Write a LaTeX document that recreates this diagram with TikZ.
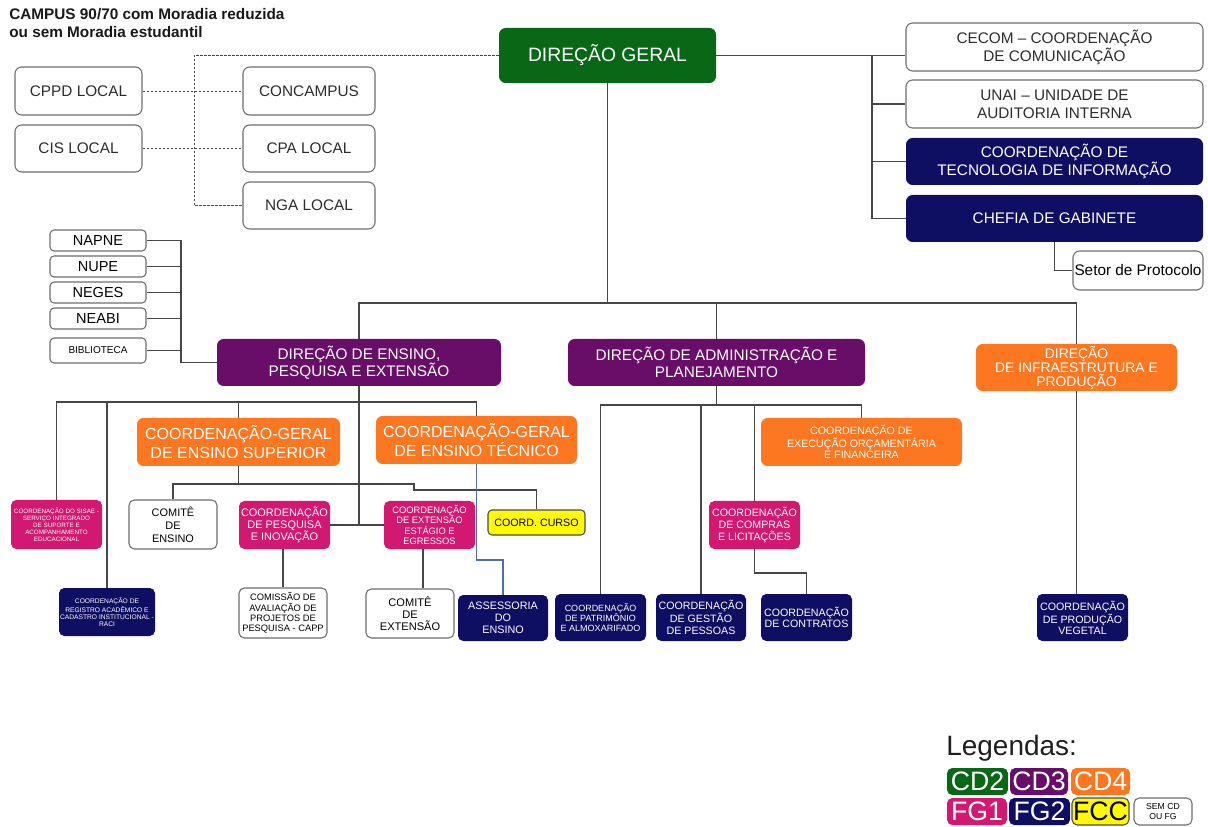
\documentclass[tikz,border=0pt]{standalone}
\usepackage{fontspec}
\setmainfont{Liberation Sans}
\usetikzlibrary{calc}
\definecolor{cgreen}{RGB}{8,104,22}
\definecolor{cpurple}{RGB}{104,14,104}
\definecolor{corange}{RGB}{253,118,32}
\definecolor{cmag}{RGB}{210,24,112}
\definecolor{cnavy}{RGB}{14,14,98}
\definecolor{cyel}{RGB}{255,250,0}
\definecolor{cline}{RGB}{70,70,70}
\definecolor{cbord}{RGB}{110,110,110}
\definecolor{ctxt}{RGB}{45,45,45}
\definecolor{cblue}{RGB}{80,110,160}
\newcommand{\fsz}[2]{\fontsize{#1}{#2}\selectfont}
\tikzset{
 bx/.style={rounded corners=5pt, align=center, inner sep=0pt, text=white},
 sz/.style 2 args={minimum width=#1*0.75pt, minimum height=#2*0.75pt},
 wb/.style={bx, draw=cbord, line width=0.8pt, fill=white, text=ctxt},
 gb/.style={bx, fill=cgreen},
 pb/.style={bx, fill=cpurple},
 ob/.style={bx, fill=corange},
 mb/.style={bx, fill=cmag},
 nb/.style={bx, fill=cnavy},
 yb/.style={bx, fill=cyel, draw=black!70, line width=0.8pt, text=black},
 conn/.style={draw=cline, line width=0.85pt},
 dconn/.style={draw=cline, line width=0.7pt, dash pattern=on 2pt off 1pt},
 bconn/.style={draw=cblue, line width=0.8pt},
}
\begin{document}
\begin{tikzpicture}[x=0.75pt,y=-0.75pt]
\fill[white] (0,0) rectangle (1208,827);
\useasboundingbox (0,0) rectangle (1208,827);

% title
\node[anchor=north west, align=left, inner sep=0pt, text=black!90, font=\bfseries\fsz{11.5}{13.5}] (title) at (9,8)
 {CAMPUS 90/70 com Moradia reduzida\\ou sem Moradia estudantil};

% top
\node[gb, sz={217}{55}, font=\fsz{14.5}{17}] (dg) at (607.5,55.5) {DIREÇÃO GERAL};

\node[wb, sz={127}{48}, font=\fsz{11.5}{13.5}] (cppd) at (78.5,91) {CPPD LOCAL};
\node[wb, sz={127}{47}, font=\fsz{11.5}{13.5}] (cis) at (78.5,148.5) {CIS LOCAL};
\node[wb, sz={132}{48}, font=\fsz{11.5}{13.5}] (concampus) at (309,91) {CONCAMPUS};
\node[wb, sz={132}{47}, font=\fsz{11.5}{13.5}] (cpa) at (309,148.5) {CPA LOCAL};
\node[wb, sz={132}{47}, font=\fsz{11.5}{13.5}] (nga) at (309,205.5) {NGA LOCAL};

\node[wb, sz={297}{48}, font=\fsz{11.5}{13.5}] (cecom) at (1054.5,47) {CECOM – COORDENAÇÃO\\DE COMUNICAÇÃO};
\node[wb, sz={297}{48}, font=\fsz{11.5}{13.5}] (unai) at (1054.5,104) {UNAI – UNIDADE DE\\AUDITORIA INTERNA};
\node[nb, sz={297}{47}, font=\fsz{11.5}{13.5}] (ti) at (1054.5,161.5) {COORDENAÇÃO DE\\TECNOLOGIA DE INFORMAÇÃO};
\node[nb, sz={297}{47}, font=\fsz{11.5}{13.5}] (chefia) at (1054.5,218.5) {CHEFIA DE GABINETE};
\node[wb, sz={130}{39}, text=black, font=\fsz{11.5}{13.5}] (prot) at (1138,270.5) {Setor de Protocolo};

% nuclei
\node[wb, rounded corners=3pt, sz={96}{21}, text=black, font=\fsz{10.9}{12}] (napne) at (98,240.5) {NAPNE};
\node[wb, rounded corners=3pt, sz={96}{21}, text=black, font=\fsz{10.9}{12}] (nupe) at (98,266.5) {NUPE};
\node[wb, rounded corners=3pt, sz={96}{21}, text=black, font=\fsz{10.9}{12}] (neges) at (98,292.5) {NEGES};
\node[wb, rounded corners=3pt, sz={96}{21}, text=black, font=\fsz{10.9}{12}] (neabi) at (98,318.5) {NEABI};
\node[wb, rounded corners=3pt, sz={96}{25}, text=black, font=\fsz{7.5}{8}] (biblio) at (98,350.5) {BIBLIOTECA};

% directorates
\node[pb, sz={284}{47}, font=\fsz{11.5}{12.8}] (depe) at (359,362.5) {DIREÇÃO DE ENSINO,\\PESQUISA E EXTENSÃO};
\node[pb, sz={297}{47}, font=\fsz{11.5}{12.8}] (dap) at (716.5,362.5) {DIREÇÃO DE ADMINISTRAÇÃO E\\PLANEJAMENTO};
\node[ob, sz={201}{47}, font=\fsz{10.4}{10.5}] (dip) at (1076.5,367.5) {DIREÇÃO\\DE INFRAESTRUTURA E\\PRODUÇÃO};

% DEPE children
\node[ob, sz={203}{48}, font=\fsz{12}{14}] (cges) at (238.5,442) {COORDENAÇÃO-GERAL\\DE ENSINO SUPERIOR};
\node[ob, sz={201}{48}, font=\fsz{12}{14}] (cget) at (476.5,440) {COORDENAÇÃO-GERAL\\DE ENSINO TÉCNICO};
\node[mb, rounded corners=4pt, sz={91}{49}, font=\fsz{4.7}{5.3}] (sisae) at (56.5,524.5) {COORDENAÇÃO DO SISAE -\\SERVIÇO INTEGRADO\\DE SUPORTE E\\ACOMPANHAMENTO\\EDUCACIONAL};
\node[nb, rounded corners=4pt, sz={96}{48}, font=\fsz{5}{5.3}] (raci) at (107,612) {COORDENAÇÃO DE\\REGISTRO ACADÊMICO E\\CADASTRO INSTITUCIONAL -\\RACI};
\node[wb, rounded corners=4pt, sz={88}{49}, text=black, font=\fsz{8.2}{9.7}] (comite) at (173,524.5) {COMITÊ\\DE\\ENSINO};
\node[mb, rounded corners=4pt, sz={91}{48}, font=\fsz{8.2}{9}] (pesq) at (284.5,525) {COORDENAÇÃO\\DE PESQUISA\\E INOVAÇÃO};
\node[mb, rounded corners=4pt, sz={91}{48}, font=\fsz{7}{7.7}] (ext) at (429.5,525) {COORDENAÇÃO\\DE EXTENSÃO\\ESTÁGIO E\\EGRESSOS};
\node[yb, rounded corners=3pt, sz={97}{25}, font=\fsz{8}{9}] (curso) at (536.5,522.5) {COORD. CURSO};
\node[wb, rounded corners=4pt, sz={88}{50}, text=black, font=\fsz{7}{7.7}] (capp) at (283,613) {COMISSÃO DE\\AVALIAÇÃO DE\\PROJETOS DE\\PESQUISA - CAPP};
\node[wb, rounded corners=4pt, sz={88}{49}, text=black, font=\fsz{8.3}{8.8}] (comext) at (410,613.5) {COMITÊ\\DE\\EXTENSÃO};
\node[nb, rounded corners=4pt, sz={90}{46}, font=\fsz{8.1}{9}] (ass) at (503,618) {ASSESSORIA\\DO\\ENSINO};

% DAP children
\node[ob, sz={201}{48}, font=\fsz{8}{8.7}] (ceof) at (861.5,442) {COORDENAÇÃO DE\\EXECUÇÃO ORÇAMENTÁRIA\\E FINANCEIRA};
\node[mb, rounded corners=4pt, sz={91}{48}, font=\fsz{8}{9}] (compras) at (754.5,525) {COORDENAÇÃO\\DE COMPRAS\\E LICITAÇÕES};
\node[nb, rounded corners=4pt, sz={91}{47}, font=\fsz{6.75}{7.5}] (patr) at (600.5,617.5) {COORDENAÇÃO\\DE PATRIMÔNIO\\E ALMOXARIFADO};
\node[nb, rounded corners=4pt, sz={90}{47}, font=\fsz{8}{8.6}] (gest) at (701,617.5) {COORDENAÇÃO\\DE GESTÃO\\DE PESSOAS};
\node[nb, rounded corners=4pt, sz={91}{47}, font=\fsz{8}{8.3}] (contr) at (806.5,617.5) {COORDENAÇÃO\\DE CONTRATOS};
\node[nb, rounded corners=4pt, sz={91}{47}, font=\fsz{8}{8.3}] (pv) at (1082.5,617.5) {COORDENAÇÃO\\DE PRODUÇÃO\\VEGETAL};

% helper coordinates
\coordinate (dj) at (194,55.5);
\coordinate (rj) at (872,55.5);
\coordinate (bus1) at (607.5,303);
\coordinate (nx) at (181,0);
\coordinate (yA) at (0,402);
\coordinate (yC) at (0,484);
\coordinate (kA) at (414,484);
\coordinate (kB) at (414,490);
\coordinate (lx) at (423,0);
\coordinate (yE) at (0,560);
\coordinate (yF) at (0,405);
\coordinate (yG) at (0,573);

% dashed links
\draw[dconn] (dg.west) -- (dj) |- (nga.west);
\draw[dconn] (cppd.east) -- (concampus.west);
\draw[dconn] (cis.east) -- (cpa.west);

% right links
\draw[conn] (dg.east) -- (cecom.west |- dg.east);
\draw[conn] (rj) |- (unai.west);
\draw[conn] (rj) |- (ti.west);
\draw[conn] (rj) |- (chefia.west);
\draw[conn] (chefia.south) |- (prot.west);

% main bus
\draw[conn] (dg.south) -- (bus1);
\draw[conn] (depe.north) -- (depe.north |- bus1) -- (dip.north |- bus1) -- (dip.north);
\draw[conn] (dap.north) -- (dap.north |- bus1);

% nuclei
\draw[conn] (napne.east) -- (napne.east -| nx) |- (depe.west);
\draw[conn] (nupe.east) -- (nupe.east -| nx);
\draw[conn] (neges.east) -- (neges.east -| nx);
\draw[conn] (neabi.east) -- (neabi.east -| nx);
\draw[conn] (biblio.east) -- (biblio.east -| nx);

% DEPE tree
\draw[conn] (depe.south) -- (depe.south |- pesq.east);
\draw[conn] (pesq.east) -- (ext.west);
\draw[conn] (sisae.north) -- (sisae.north |- yA) -- (cget.north |- yA) -- (cget.north);
\draw[conn] (raci.north) -- (raci.north |- yA);
\draw[conn] (cges.north) -- (cges.north |- yA);
\draw[conn] (cges.south) -- (cges.south |- yC);
\draw[conn] (comite.north) -- (comite.north |- yC) -- (kA) -- (kB) -- (curso.north |- kB) -- (curso.north);
\draw[conn] (capp.north) -- (capp.north |- pesq.south);
\draw[conn] (ext.south -| lx) -- (comext.north -| lx);
\draw[bconn] (cget.south) -- (cget.south |- yE) -- (ass.north |- yE) -- (ass.north);

% DAP tree
\draw[conn] (dap.south) -- (dap.south |- yF);
\draw[conn] (patr.north) -- (patr.north |- yF) -- (ceof.north |- yF) -- (ceof.north);
\draw[conn] (gest.north) -- (gest.north |- yF);
\draw[conn] (compras.north) -- (compras.north |- yF);
\draw[conn] (compras.south) -- (compras.south |- yG) -- (contr.north |- yG) -- (contr.north);

% DIP
\draw[conn] (dip.south) -- (dip.south |- pv.north);

% legend
\node[anchor=west, inner sep=0pt, text=black!88, font=\fsz{21}{23}] (leg) at (946,748) {Legendas:};
\node[gb, rounded corners=4pt, sz={61}{27}, font=\fsz{20}{20}] (cd2) at (977.5,781.5) {CD2};
\node[pb, rounded corners=4pt, sz={58}{27}, font=\fsz{20}{20}] (cd3) at (1039,781.5) {CD3};
\node[ob, rounded corners=4pt, sz={59}{27}, font=\fsz{20}{20}] (cd4) at (1100.5,781.5) {CD4};
\node[mb, rounded corners=4pt, sz={60}{27}, font=\fsz{20}{20}] (fg1) at (977,811.5) {FG1};
\node[nb, rounded corners=4pt, sz={61}{27}, font=\fsz{20}{20}] (fg2) at (1039.5,811.5) {FG2};
\node[yb, rounded corners=4pt, sz={57}{27}, font=\fsz{20}{20}] (fcc) at (1100.5,811.5) {FCC};
\node[wb, rounded corners=4pt, sz={58}{27}, text=black, font=\fsz{6.5}{7.5}] (sem) at (1163,811.5) {SEM CD\\OU FG};
\end{tikzpicture}
\end{document}
